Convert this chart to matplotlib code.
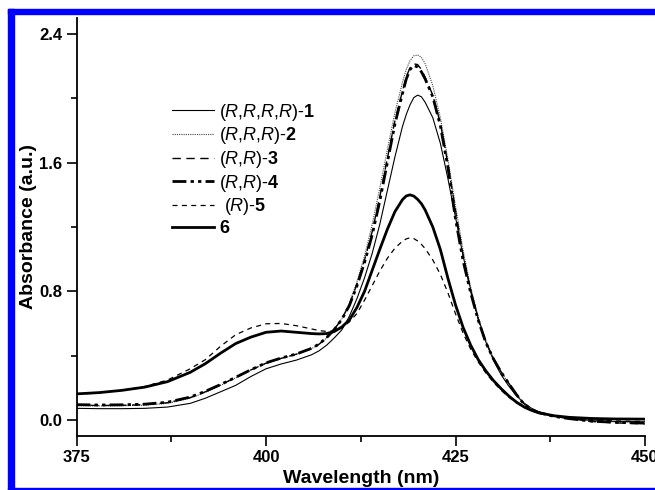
import numpy as np
import matplotlib
matplotlib.use("Agg")
import matplotlib.pyplot as plt
from matplotlib.patches import Rectangle

## Données (spectres UV-vis)
wl = [375, 378, 381, 384, 387, 390, 392, 394, 396, 398, 400, 402, 404, 406,
      407, 408, 409, 410, 411, 412, 413, 414, 415, 416, 417, 418, 418.5, 419,
      419.5, 420, 420.5, 421, 422, 423, 424, 425, 426, 427, 428, 429, 430,
      431, 432, 433, 434, 435, 436, 438, 440, 443, 446, 450]

abs1 = [0.072, 0.070, 0.070, 0.072, 0.080, 0.103, 0.135, 0.175, 0.215, 0.270,
        0.318, 0.348, 0.372, 0.405, 0.430, 0.465, 0.510, 0.560, 0.645, 0.755,
        0.885, 1.035, 1.215, 1.425, 1.635, 1.825, 1.900, 1.960, 2.005, 2.020,
        2.010, 1.975, 1.880, 1.720, 1.500, 1.260, 1.020, 0.810, 0.630, 0.485,
        0.372, 0.282, 0.212, 0.152, 0.106, 0.073, 0.050, 0.025, 0.010, -0.004,
        -0.010, -0.012]

abs2 = [0.088, 0.087, 0.088, 0.092, 0.103, 0.135, 0.172, 0.215, 0.262, 0.310,
        0.352, 0.382, 0.408, 0.443, 0.470, 0.510, 0.562, 0.630, 0.725, 0.860,
        1.020, 1.215, 1.440, 1.680, 1.910, 2.100, 2.180, 2.235, 2.265, 2.270,
        2.255, 2.215, 2.080, 1.880, 1.620, 1.330, 1.055, 0.825, 0.640, 0.495,
        0.385, 0.300, 0.228, 0.160, 0.105, 0.070, 0.048, 0.022, 0.008, -0.005,
        -0.012, -0.015]

abs3 = [0.092, 0.090, 0.091, 0.095, 0.107, 0.139, 0.175, 0.218, 0.264, 0.311,
        0.353, 0.383, 0.409, 0.444, 0.471, 0.511, 0.563, 0.628, 0.718, 0.845,
        0.995, 1.170, 1.385, 1.625, 1.860, 2.045, 2.135, 2.190, 2.215, 2.210,
        2.180, 2.130, 2.020, 1.845, 1.590, 1.300, 1.025, 0.800, 0.625, 0.485,
        0.382, 0.300, 0.230, 0.162, 0.102, 0.066, 0.046, 0.022, 0.008, -0.010,
        -0.018, -0.025]

abs4 = [0.095, 0.093, 0.094, 0.098, 0.110, 0.142, 0.178, 0.220, 0.265, 0.312,
        0.355, 0.385, 0.410, 0.445, 0.472, 0.512, 0.562, 0.625, 0.712, 0.835,
        0.980, 1.150, 1.360, 1.600, 1.840, 2.030, 2.120, 2.180, 2.205, 2.195,
        2.165, 2.120, 2.010, 1.830, 1.570, 1.250, 0.990, 0.790, 0.620, 0.480,
        0.380, 0.298, 0.228, 0.160, 0.100, 0.065, 0.045, 0.022, 0.008, -0.008,
        -0.015, -0.020]

abs5 = [0.160, 0.168, 0.184, 0.208, 0.248, 0.318, 0.375, 0.458, 0.530, 0.572,
        0.598, 0.600, 0.586, 0.566, 0.556, 0.550, 0.553, 0.572, 0.610, 0.662,
        0.745, 0.835, 0.925, 1.005, 1.068, 1.112, 1.126, 1.133, 1.128, 1.113,
        1.092, 1.065, 0.995, 0.905, 0.790, 0.660, 0.540, 0.440, 0.360, 0.292,
        0.235, 0.185, 0.142, 0.107, 0.078, 0.057, 0.042, 0.024, 0.012, 0.002,
        -0.006, -0.010]

abs6 = [0.162, 0.170, 0.184, 0.204, 0.238, 0.296, 0.350, 0.415, 0.475, 0.515,
        0.545, 0.553, 0.545, 0.537, 0.535, 0.537, 0.550, 0.578, 0.622, 0.700,
        0.800, 0.930, 1.060, 1.185, 1.295, 1.370, 1.393, 1.400, 1.392, 1.372,
        1.345, 1.305, 1.200, 1.060, 0.880, 0.715, 0.575, 0.465, 0.375, 0.305,
        0.245, 0.195, 0.150, 0.112, 0.082, 0.060, 0.044, 0.026, 0.016, 0.009,
        0.006, 0.005]

labels = ['($\\mathit{R}$,$\\mathit{R}$,$\\mathit{R}$,$\\mathit{R}$)-$\\mathbf{1}$',
          '($\\mathit{R}$,$\\mathit{R}$,$\\mathit{R}$)-$\\mathbf{2}$',
          '($\\mathit{R}$,$\\mathit{R}$)-$\\mathbf{3}$',
          '($\\mathit{R}$,$\\mathit{R}$)-$\\mathbf{4}$',
          ' ($\\mathit{R}$)-$\\mathbf{5}$',
          '$\\mathbf{6}$']

## Style
plt.rcParams['font.family'] = ['Liberation Sans', 'DejaVu Sans']
plt.rcParams['mathtext.fontset'] = 'custom'
plt.rcParams['mathtext.rm'] = 'Liberation Sans'
plt.rcParams['mathtext.it'] = 'Liberation Sans:italic'
plt.rcParams['mathtext.bf'] = 'Liberation Sans:bold'

styles = [dict(ls='-', lw=0.8, color='black'),
          dict(ls=(0, (1, 1)), lw=0.8, color='#444444'),
          dict(ls=(0, (6, 4)), lw=1.0, color='black'),
          dict(ls=(0, (5, 1.5, 1.2, 1.5, 1.2, 1.5)), lw=2.0, color='black'),
          dict(ls=(0, (4, 3.5)), lw=0.9, color='black'),
          dict(ls='-', lw=2.0, color='black')]

fig = plt.figure(figsize=(6.55, 4.9), dpi=100)
ax = fig.add_axes([0.1168, 0.1102, 0.868, 0.8531])

for y, lab, st in zip([abs1, abs2, abs3, abs4, abs5, abs6], labels, styles):
    ax.plot(wl, y, label=lab, **st)

ax.set_xlim(375, 450)
ax.set_ylim(-0.1, 2.5)
ax.set_xticks([375, 400, 425, 450])
ax.set_xticks([387.5, 412.5, 437.5], minor=True)
ax.set_yticks([0.0, 0.8, 1.6, 2.4])
ax.set_yticks([0.4, 1.2, 2.0], minor=True)
ax.set_yticklabels(['0.0', '0.8', '1.6', '2.4'])

for s in ['top', 'right']:
    ax.spines[s].set_visible(False)
for s in ['left', 'bottom']:
    ax.spines[s].set_linewidth(1.3)

ax.tick_params(which='major', direction='out', length=7, width=1.2, pad=3,
               labelsize=12)
ax.tick_params(which='minor', direction='out', length=4, width=1.2)
for t in ax.get_xticklabels() + ax.get_yticklabels():
    t.set_fontweight('bold')

ax.set_xlabel('Wavelength (nm)', fontsize=14, fontweight='bold', labelpad=4)
ax.set_ylabel('Absorbance (a.u.)', fontsize=14, fontweight='bold', labelpad=2)

ax.legend(loc='upper left', bbox_to_anchor=(0.168, 0.80), frameon=False,
          fontsize=13, handlelength=2.3, handletextpad=0.3, labelspacing=0.15,
          borderpad=0, borderaxespad=0)

# cadre bleu autour de la figure
W, H = 655, 490
bleu = '#0000ff'
fig.patches.append(Rectangle((8 / W, 1 - 14 / H), 1, 5 / H, color=bleu,
                             transform=fig.transFigure, zorder=10))
fig.patches.append(Rectangle((8 / W, 0), 6 / W, 1 - 9 / H, color=bleu,
                             transform=fig.transFigure, zorder=10))
fig.patches.append(Rectangle((8 / W, 1 / H), 1, 1.2 / H, color=bleu,
                             transform=fig.transFigure, zorder=10))

fig.savefig('out.png', dpi=100)
